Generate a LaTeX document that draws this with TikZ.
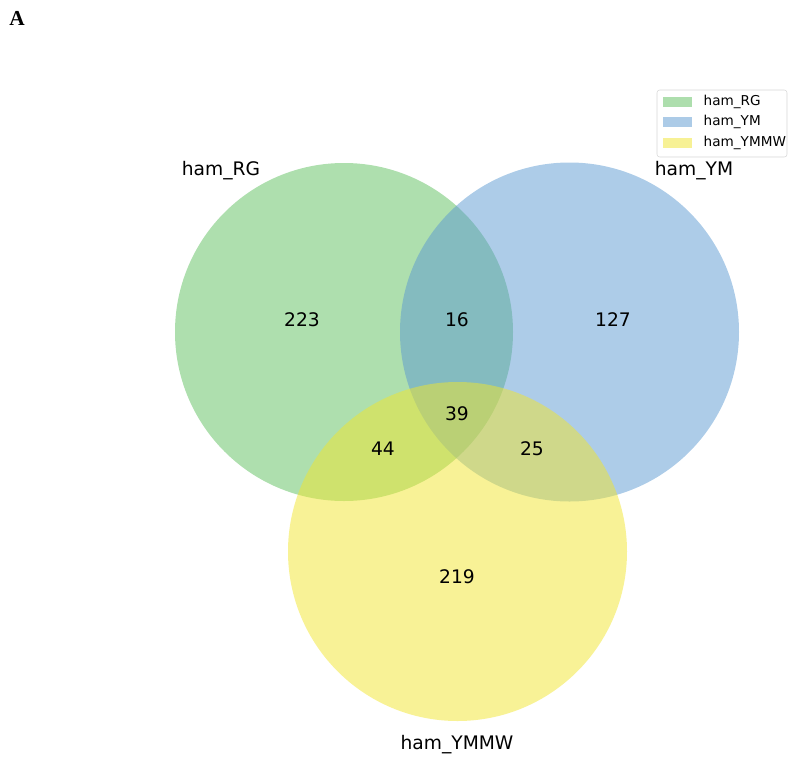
\documentclass[tikz,border=0pt]{standalone}
\usepackage{fontspec}
\setmainfont{DejaVu Sans}
\newfontfamily\serifbold{Liberation Serif}
\definecolor{cgreen}{RGB}{93,191,93}
\definecolor{cblue}{RGB}{91,153,209}
\definecolor{cyellow}{RGB}{241,229,45}
\begin{document}
\begin{tikzpicture}[x=0.75pt,y=-0.75pt,
  setcirc/.style={fill opacity=0.5, draw=none},
  lbl/.style={font=\fontsize{14}{16}\selectfont, text=black},
  num/.style={font=\fontsize{14}{16}\selectfont, text=black},
  legtxt/.style={font=\fontsize{10.2}{12}\selectfont, anchor=west, text=black},
  legpatch/.style={minimum width=29*0.75pt, minimum height=10*0.75pt, inner sep=0pt, fill opacity=0.5}]
\useasboundingbox (0,0) rectangle (797,765);
\node[font=\serifbold\bfseries\fontsize{16}{18}\selectfont] (panel) at (17,18) {A};
\fill[cgreen,setcirc] (344,332) circle (169);
\fill[cblue,setcirc] (569.5,332) circle (169.5);
\fill[cyellow,setcirc] (457.5,551.5) circle (169.5);
\node[lbl] (lRG) at (221,171) {ham\_RG};
\node[lbl] (lYM) at (694,171) {ham\_YM};
\node[lbl] (lYMMW) at (457,745) {ham\_YMMW};
\node[num] (n223) at (302,320) {223};
\node[num] (n16) at (457,320) {16};
\node[num] (n127) at (613,320) {127};
\node[num] (n39) at (457,414) {39};
\node[num] (n44) at (383,449) {44};
\node[num] (n25) at (532,449) {25};
\node[num] (n219) at (457,577) {219};
\draw[rounded corners=2pt, draw={rgb,255:red,215;green,215;blue,215}, fill=white] (657,90) rectangle (787,157);
\node[legpatch, fill=cgreen] (p1) at (677.5,102) {};
\node[legpatch, fill=cblue] (p2) at (677.5,122) {};
\node[legpatch, fill=cyellow] (p3) at (677.5,143) {};
\node[legtxt] (t1) at (699,102) {ham\_RG};
\node[legtxt] (t2) at (699,122) {ham\_YM};
\node[legtxt] (t3) at (699,143) {ham\_YMMW};
\end{tikzpicture}
\end{document}
